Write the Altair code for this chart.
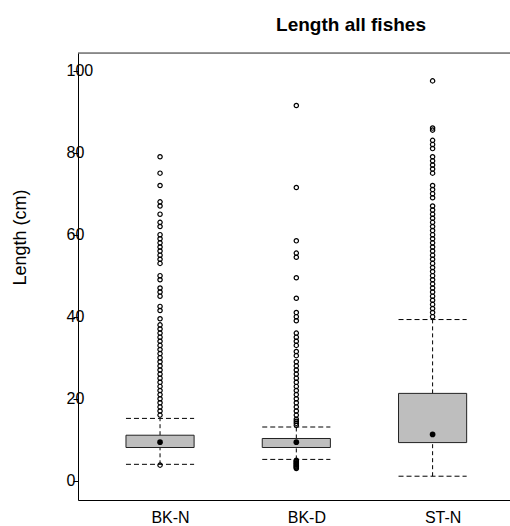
import altair as alt
import pandas as pd

# ---- data ----
categories = ["BK-N", "BK-D", "ST-N"]
whisker_low = [4.0, 5.2, 1.1]
q1 = [8.1, 8.1, 9.3]
median = [9.4, 9.4, 11.3]
q3 = [11.1, 10.3, 21.3]
whisker_high = [15.2, 13.1, 39.3]

outliers_bkn = [79, 75, 72, 68, 67, 65, 63, 62, 60, 59, 58, 57, 56, 55, 54, 53,
                50, 49, 47, 46, 45, 42.5, 41.5, 39.5,
                38, 37, 36, 35, 34, 33, 32, 31, 30, 29, 28, 27, 26, 25, 24, 23,
                22, 21, 20, 19, 18, 17, 16, 3.8]
outliers_bkd = [91.5, 71.5, 58.5, 55.5, 54.5, 49.5, 44.5, 41, 40, 39,
                36, 35, 34, 33, 31.5, 30.5,
                29, 28, 27, 26, 25, 24, 23, 22, 21, 20, 19, 18, 17, 16, 15, 14.5,
                14, 13.5,
                5.0, 4.8, 4.6, 4.4, 4.2, 4.0, 3.8, 3.6, 3.4, 3.2, 3.0]
outliers_stn = [97.5, 86, 85.5, 83, 82, 81, 79, 78, 77, 76, 75, 72, 71, 70, 69,
                67, 66, 65, 64, 63, 62, 61, 60, 59, 58, 57, 56, 55, 54, 53, 52,
                51, 50, 49, 48, 47, 46, 45, 44, 43, 42, 41, 40]
y_ticks = [0, 20, 40, 60, 80, 100]

# ---- tables ----
half = 0.25
boxes = pd.DataFrame({
    "cat": categories,
    "pos": [i + 1 for i in range(len(categories))],
    "lo": whisker_low, "q1": q1, "med": median, "q3": q3, "hi": whisker_high,
})
boxes["xl"] = boxes["pos"] - half
boxes["xr"] = boxes["pos"] + half

out_rows = []
for i, vals in enumerate([outliers_bkn, outliers_bkd, outliers_stn]):
    for v in vals:
        out_rows.append({"cat": categories[i], "pos": i + 1, "v": v})
outs = pd.DataFrame(out_rows)

FONT = "Liberation Sans"
label_expr = "[" + ",".join("'%s'" % c for c in categories) + "][datum.value - 1]"

xscale = alt.Scale(domain=[0.398, 3.568], nice=False, zero=False)
yscale = alt.Scale(domain=[-4.7, 104.3], nice=False, zero=False)

xaxis = alt.Axis(values=[1, 2, 3], labelExpr=label_expr, title=None, grid=False,
                 ticks=False, tickSize=0, labelPadding=9, labelOffset=10,
                 labelFont=FONT, labelFontSize=16, labelColor="black",
                 domainColor="black", domainWidth=1)
yaxis = alt.Axis(values=y_ticks, title="Length (cm)", grid=False,
                 tickSize=5, tickColor="black", labelAlign="left", labelPadding=7,
                 labelBaseline="middle", labelFont=FONT, labelFontSize=16,
                 labelColor="black", domainColor="black", domainWidth=1,
                 titleFont=FONT, titleFontSize=18, titleFontWeight="normal",
                 titleColor="black", titleX=-58, titleY=184, titleAngle=270,
                 titleAlign="center", titleBaseline="middle")

base = alt.Chart(boxes)
X = alt.X("pos:Q", scale=xscale, axis=xaxis)

whisk_up = base.mark_rule(color="black", strokeWidth=1, strokeDash=[4, 3]).encode(
    x=X, y=alt.Y("q3:Q", scale=yscale, axis=yaxis), y2="hi:Q")
whisk_lo = base.mark_rule(color="black", strokeWidth=1, strokeDash=[4, 3]).encode(
    x="pos:Q", y="lo:Q", y2="q1:Q")
cap_hi = base.mark_rule(color="black", strokeWidth=1, strokeDash=[5, 3]).encode(
    x="xl:Q", x2="xr:Q", y="hi:Q")
cap_lo = base.mark_rule(color="black", strokeWidth=1, strokeDash=[5, 3]).encode(
    x="xl:Q", x2="xr:Q", y="lo:Q")
box = base.mark_rect(fill="#bebebe", stroke="#222222", strokeWidth=1).encode(
    x="xl:Q", x2="xr:Q", y="q1:Q", y2="q3:Q")
med = base.mark_point(shape="circle", filled=True, size=32, color="black", opacity=1).encode(
    x="pos:Q", y="med:Q")
pts = alt.Chart(outs).mark_point(shape="circle", filled=False, size=19, stroke="black",
                                  strokeWidth=1.2, opacity=1).encode(
    x="pos:Q", y="v:Q")
top = alt.Chart(pd.DataFrame({"k": [0]})).mark_rule(color="#333333", strokeWidth=1).encode(
    x=alt.value(0), x2=alt.value(432), y=alt.value(0))

chart = alt.layer(whisk_up, whisk_lo, cap_hi, cap_lo, box, pts, med, top).properties(
    width=432, height=447,
    autosize=alt.AutoSizeParams(type="none"),
    padding={"left": 78, "top": 53, "right": 0, "bottom": 26},
    title=alt.TitleParams(text="Length all fishes", font=FONT, fontSize=19,
                          fontWeight="bold", color="black", anchor="middle",
                          frame="group", dx=57, offset=3, baseline="alphabetic"),
).configure_view(stroke=None).configure(background="white")

chart.save("out.html", embed_options={"renderer": "svg", "actions": False})
